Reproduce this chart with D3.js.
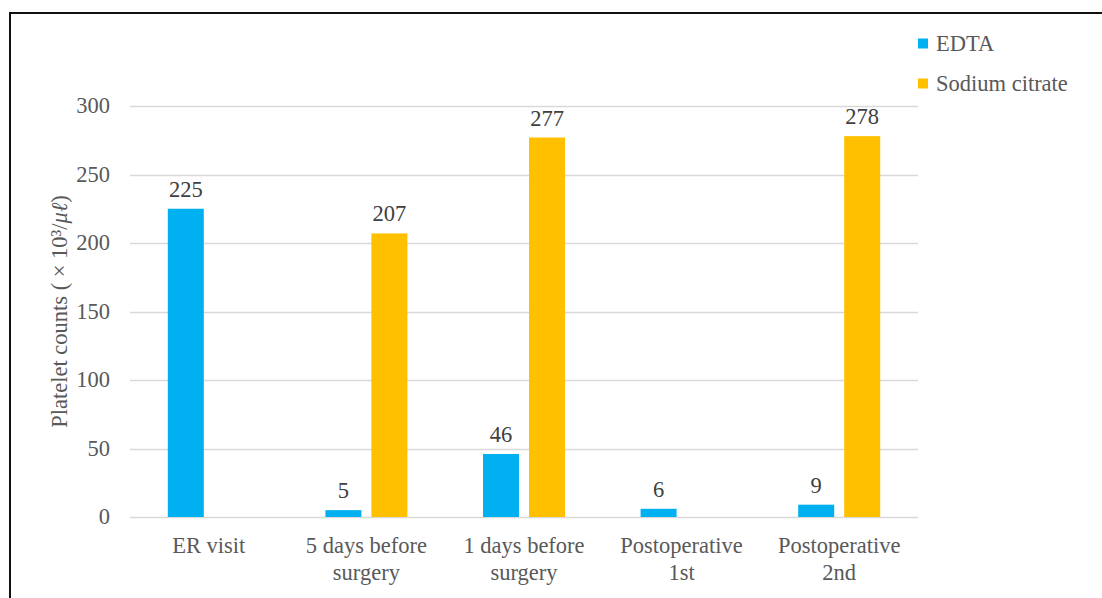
<!DOCTYPE html>
<html>
<head>
<meta charset="utf-8">
<script src="https://cdn.jsdelivr.net/npm/d3@7"></script>
<style>
  html, body { margin: 0; padding: 0; background: #fff; }
  svg { display: block; }
  svg text { font-family: "Liberation Serif", "Tinos", "Times New Roman", Times, "DejaVu Serif", serif; }
</style>
</head>
<body>
<svg id="chart" width="1102" height="598"></svg>
<script>
const categories = [["ER visit"], ["5 days before", "surgery"], ["1 days before", "surgery"], ["Postoperative", "1st"], ["Postoperative", "2nd"]];
const seriesNames = ["EDTA", "Sodium citrate"];
const edta = [225, 5, 46, 6, 9];
const sodiumCitrate = [null, 207, 277, null, 278];
const yTicks = [0, 50, 100, 150, 200, 250, 300];
const colors = ["#00B0F0", "#FFC000"];

const FONT = '"Liberation Serif", "Tinos", "Times New Roman", Times, "DejaVu Serif", serif';
const FS = 22.5;
const svg = d3.select("#chart");
const W = 1102, H = 598;
const margin = {left: 130, right: 184, top: 106, bottom: 81};
const x0 = d3.scaleBand().domain(d3.range(categories.length)).range([margin.left, W - margin.right]).padding(0);
const bw = x0.bandwidth();
const x1 = d3.scaleBand().domain(seriesNames).range([bw / 2 - 41, bw / 2 + 41]).paddingInner(10 / 46).paddingOuter(0);
const y = d3.scaleLinear().domain([0, 300]).range([H - margin.bottom, margin.top]);

// outer frame
svg.append("rect").attr("x", 10).attr("y", 13).attr("width", 1200).attr("height", 700)
  .attr("fill", "none").attr("stroke", "#111").attr("stroke-width", 2);

// gridlines
svg.append("g").selectAll("line").data(yTicks).join("line")
  .attr("x1", margin.left).attr("x2", W - margin.right)
  .attr("y1", d => Math.round(y(d)) + 0.5).attr("y2", d => Math.round(y(d)) + 0.5)
  .attr("stroke", "#D9D9D9").attr("stroke-width", 1.3);

// y tick labels
svg.append("g").selectAll("text").data(yTicks).join("text")
  .attr("x", 110).attr("y", d => y(d)).attr("dy", "0.33em")
  .attr("text-anchor", "end").attr("font-size", FS).attr("font-family", FONT).attr("fill", "#595959")
  .text(d => d);

// y axis title
const yt = svg.append("text")
  .attr("transform", `translate(67,${(y(0) + y(300)) / 2}) rotate(-90)`)
  .attr("text-anchor", "middle").attr("font-size", FS).attr("font-family", FONT).attr("fill", "#595959");
yt.append("tspan").text("Platelet counts ( × 10³/");
yt.append("tspan").attr("font-style", "italic").text("μℓ");
yt.append("tspan").text(")");

const seriesData = [edta, sodiumCitrate];
seriesNames.forEach((s, si) => {
  const vals = seriesData[si];
  const g = svg.append("g");
  const data = vals.map((v, i) => ({i, v})).filter(d => d.v != null);
  g.selectAll("rect").data(data).join("rect")
    .attr("x", d => x0(d.i) + x1(s)).attr("width", x1.bandwidth())
    .attr("y", d => y(d.v)).attr("height", d => y(0) - y(d.v))
    .attr("fill", colors[si]);
  g.selectAll("text").data(data).join("text")
    .attr("x", d => x0(d.i) + x1(s) + x1.bandwidth() / 2)
    .attr("y", d => y(d.v) - 12)
    .attr("text-anchor", "middle").attr("font-size", FS).attr("font-family", FONT).attr("fill", "#404040")
    .text(d => d.v);
});

// x labels
const xl = svg.append("g").selectAll("text").data(categories).join("text")
  .attr("text-anchor", "middle").attr("font-size", FS).attr("font-family", FONT).attr("fill", "#595959")
  .attr("x", (d, i) => x0(i) + bw / 2).attr("y", 553);
xl.selectAll("tspan").data(d => d).join("tspan")
  .attr("x", function() { return d3.select(this.parentNode).attr("x"); })
  .attr("dy", (d, i) => i === 0 ? 0 : 27)
  .text(d => d);

// legend
const lg = svg.append("g").selectAll("g").data(seriesNames).join("g")
  .attr("transform", (d, i) => `translate(918,${38.5 + i * 40})`);
lg.append("rect").attr("width", 10).attr("height", 10).attr("fill", (d, i) => colors[i]);
lg.append("text").attr("x", 18).attr("y", 12.5).attr("font-size", FS).attr("font-family", FONT).attr("fill", "#595959").text(d => d);
</script>
</body>
</html>
